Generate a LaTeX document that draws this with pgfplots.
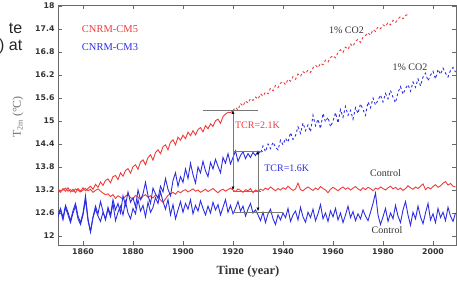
\documentclass[border=0pt]{standalone}
\usepackage{pgfplots}
\pgfplotsset{compat=1.18}
\usetikzlibrary{arrows.meta}
\usepackage{fontspec}
\setmainfont{Liberation Serif}
\newfontfamily\ticksfont{DejaVu Sans}
\newfontfamily\arialfont{Liberation Sans}
\definecolor{cmred}{RGB}{238,60,60}
\definecolor{cmblue}{RGB}{45,45,228}
\definecolor{axgray}{RGB}{105,105,105}
\definecolor{brgray}{RGB}{120,120,120}
\begin{document}
\begin{tikzpicture}
\begin{axis}[
  at={(58pt,40pt)}, anchor=south west,
  scale only axis, width=398pt, height=240pt,
  xmin=1850, xmax=2009.2, ymin=11.765, ymax=18.03,
  xtick={1860,1880,1900,1920,1940,1960,1980,2000},
  xticklabels={1860,1880,1900,1920,1940,1960,1980,2000},
  ytick={12,12.6,13.2,13.8,14.4,15,15.6,16.2,16.8,17.4,18},
  yticklabels={12,12.6,13.2,13.8,14.4,15,15.6,16.2,16.8,17.4,18},
  tick label style={font=\ticksfont\bfseries\fontsize{7.8}{8}\selectfont, text=black!80},
  axis line style={draw=axgray, line width=0.9pt},
  tick style={draw=axgray, line width=0.6pt},
  major tick length=4pt,
  clip=true,
]
% CNRM-CM5 control
\addplot[cmred, line width=0.9pt] coordinates {
(1850,13.22)(1851,13.18)(1852,13.20)(1853,13.25)(1854,13.17)(1855,13.21)(1856,13.16)(1857,13.23)(1858,13.19)(1859,13.15)
(1860,13.20)(1861,13.24)(1862,13.18)(1863,13.22)(1864,13.14)(1865,13.19)(1866,13.23)(1867,13.17)(1868,13.12)(1869,13.08)
(1870,13.10)(1871,13.03)(1872,13.08)(1873,12.98)(1874,13.05)(1875,13.01)(1876,12.96)(1877,13.04)(1878,13.09)(1879,13.00)
(1880,12.97)(1881,13.06)(1882,13.02)(1883,12.95)(1884,13.04)(1885,13.08)(1886,13.01)(1887,13.05)(1888,12.99)(1889,13.07)
(1890,13.03)(1891,12.94)(1892,12.88)(1893,12.97)(1894,13.06)(1895,13.10)(1896,13.14)(1897,13.09)(1898,13.17)(1899,13.13)
(1900,13.18)(1901,13.21)(1902,13.15)(1903,13.19)(1904,13.23)(1905,13.17)(1906,13.20)(1907,13.14)(1908,13.18)(1909,13.22)
(1910,13.16)(1911,13.20)(1912,13.24)(1913,13.18)(1914,13.13)(1915,13.19)(1916,13.22)(1917,13.17)(1918,13.21)(1919,13.25)
(1920,13.20)(1921,13.16)(1922,13.23)(1923,13.19)(1924,13.14)(1925,13.21)(1926,13.18)(1927,13.24)(1928,13.13)(1929,13.20)
(1930,13.17)(1931,13.22)(1932,13.19)(1933,13.25)(1934,13.21)(1935,13.28)(1936,13.23)(1937,13.18)(1938,13.24)(1939,13.20)
(1940,13.26)(1941,13.22)(1942,13.30)(1943,13.24)(1944,13.19)(1945,13.23)(1946,13.38)(1947,13.21)(1948,13.18)(1949,13.24)
(1950,13.28)(1951,13.23)(1952,13.19)(1953,13.25)(1954,13.21)(1955,13.29)(1956,13.24)(1957,13.20)(1958,13.13)(1959,13.22)
(1960,13.27)(1961,13.23)(1962,13.18)(1963,13.24)(1964,13.28)(1965,13.22)(1966,13.26)(1967,13.20)(1968,13.25)(1969,13.29)
(1970,13.23)(1971,13.19)(1972,13.26)(1973,13.21)(1974,13.27)(1975,13.24)(1976,13.18)(1977,13.25)(1978,13.22)(1979,13.28)
(1980,13.24)(1981,13.20)(1982,13.26)(1983,13.30)(1984,13.23)(1985,13.27)(1986,13.21)(1987,13.25)(1988,13.19)(1989,13.24)
(1990,13.31)(1991,13.26)(1992,13.22)(1993,13.28)(1994,13.24)(1995,13.30)(1996,13.36)(1997,13.21)(1998,13.27)(1999,13.23)
(2000,13.29)(2001,13.34)(2002,13.27)(2003,13.31)(2004,13.38)(2005,13.42)(2006,13.33)(2007,13.37)(2008,13.30)(2009,13.28)
};
% CNRM-CM5 1% CO2 (solid part)
\addplot[cmred, line width=0.9pt] coordinates {
(1850,13.20)(1851,13.14)(1852,13.24)(1853,13.17)(1854,13.26)(1855,13.15)(1856,13.22)(1857,13.13)(1858,13.24)(1859,13.17)
(1860,13.26)(1861,13.18)(1862,13.24)(1863,13.30)(1864,13.22)(1865,13.35)(1866,13.27)(1867,13.41)(1868,13.32)(1869,13.45)
(1870,13.49)(1871,13.39)(1872,13.55)(1873,13.58)(1874,13.47)(1875,13.65)(1876,13.56)(1877,13.71)(1878,13.76)(1879,13.64)
(1880,13.81)(1881,13.86)(1882,13.74)(1883,13.93)(1884,13.99)(1885,13.86)(1886,14.05)(1887,14.12)(1888,13.98)(1889,14.18)
(1890,14.25)(1891,14.15)(1892,14.33)(1893,14.38)(1894,14.25)(1895,14.45)(1896,14.51)(1897,14.38)(1898,14.58)(1899,14.50)
(1900,14.63)(1901,14.54)(1902,14.71)(1903,14.62)(1904,14.75)(1905,14.64)(1906,14.78)(1907,14.83)(1908,14.72)(1909,14.88)
(1910,14.80)(1911,14.93)(1912,14.86)(1913,15.01)(1914,15.05)(1915,14.94)(1916,15.12)(1917,15.18)(1918,15.23)(1919,15.22)
(1920,15.27)
};
% CNRM-CM5 1% CO2 (dashed part)
\addplot[cmred, line width=0.9pt, dash pattern=on 2.5pt off 2.5pt] coordinates {
(1920,15.27)(1921,15.36)(1922,15.29)(1923,15.46)(1924,15.39)(1925,15.53)(1926,15.47)(1927,15.59)(1928,15.54)(1929,15.63)
(1930,15.57)(1931,15.71)(1932,15.65)(1933,15.76)(1934,15.71)(1935,15.86)(1936,15.79)(1937,15.93)(1938,15.87)(1939,15.99)
(1940,16.03)(1941,15.95)(1942,16.09)(1943,16.04)(1944,16.16)(1945,16.09)(1946,16.23)(1947,16.17)(1948,16.29)(1949,16.24)
(1950,16.33)(1951,16.27)(1952,16.39)(1953,16.46)(1954,16.39)(1955,16.51)(1956,16.47)(1957,16.59)(1958,16.54)(1959,16.66)
(1960,16.71)(1961,16.65)(1962,16.79)(1963,16.86)(1964,16.79)(1965,16.93)(1966,16.87)(1967,17.01)(1968,16.95)(1969,17.09)
(1970,17.13)(1971,17.05)(1972,17.19)(1973,17.23)(1974,17.31)(1975,17.24)(1976,17.39)(1977,17.34)(1978,17.46)(1979,17.41)
(1980,17.51)(1981,17.47)(1982,17.57)(1983,17.51)(1984,17.63)(1985,17.57)(1986,17.66)(1987,17.73)(1988,17.67)(1989,17.76)
(1990,17.78)
};
% CNRM-CM3 control
\addplot[cmblue, line width=0.9pt] coordinates {
(1850,12.50)(1851,12.68)(1852,12.42)(1853,12.75)(1854,12.55)(1855,12.35)(1856,12.60)(1857,12.78)(1858,12.45)(1859,12.30)
(1860,12.55)(1861,12.95)(1862,12.40)(1863,12.10)(1864,12.48)(1865,12.70)(1866,12.52)(1867,12.38)(1868,12.62)(1869,12.45)
(1870,12.70)(1871,12.50)(1872,12.85)(1873,12.40)(1874,12.62)(1875,12.78)(1876,12.55)(1877,12.90)(1878,12.60)(1879,12.45)
(1880,12.72)(1881,12.58)(1882,12.95)(1883,12.65)(1884,12.80)(1885,12.50)(1886,12.88)(1887,12.62)(1888,12.75)(1889,13.00)
(1890,12.85)(1891,13.15)(1892,12.90)(1893,12.70)(1894,12.95)(1895,12.55)(1896,12.82)(1897,12.45)(1898,12.68)(1899,12.90)
(1900,12.62)(1901,12.85)(1902,12.70)(1903,12.95)(1904,12.58)(1905,12.80)(1906,12.65)(1907,12.92)(1908,12.72)(1909,12.55)
(1910,12.78)(1911,12.60)(1912,12.88)(1913,12.68)(1914,12.82)(1915,12.55)(1916,12.75)(1917,12.95)(1918,12.62)(1919,12.80)
(1920,12.58)(1921,12.72)(1922,12.90)(1923,12.65)(1924,12.78)(1925,12.52)(1926,12.70)(1927,12.85)(1928,12.60)(1929,12.68)
(1930,12.55)(1931,12.40)(1932,12.62)(1933,12.35)(1934,12.58)(1935,12.70)(1936,12.45)(1937,12.30)(1938,12.55)(1939,12.42)
(1940,12.60)(1941,12.48)(1942,12.72)(1943,12.38)(1944,12.55)(1945,12.65)(1946,12.42)(1947,12.75)(1948,12.50)(1949,12.36)
(1950,12.62)(1951,12.48)(1952,12.70)(1953,12.40)(1954,12.58)(1955,12.82)(1956,12.45)(1957,12.60)(1958,12.38)(1959,12.66)
(1960,12.50)(1961,12.72)(1962,12.42)(1963,12.60)(1964,12.35)(1965,12.55)(1966,12.78)(1967,12.48)(1968,12.64)(1969,12.40)
(1970,12.58)(1971,12.45)(1972,12.68)(1973,12.52)(1974,12.40)(1975,12.62)(1976,12.85)(1977,13.12)(1978,12.55)(1979,12.30)
(1980,12.50)(1981,12.72)(1982,12.38)(1983,12.60)(1984,12.45)(1985,12.80)(1986,12.52)(1987,12.35)(1988,12.68)(1989,12.90)
(1990,12.55)(1991,12.28)(1992,12.62)(1993,12.45)(1994,12.78)(1995,12.50)(1996,12.32)(1997,12.60)(1998,12.85)(1999,12.42)
(2000,12.58)(2001,12.35)(2002,12.72)(2003,12.48)(2004,12.62)(2005,12.40)(2006,12.75)(2007,12.52)(2008,12.38)(2009,12.60)
};
% CNRM-CM3 1% CO2 (solid part)
\addplot[cmblue, line width=0.9pt] coordinates {
(1850,12.55)(1851,12.72)(1852,12.48)(1853,12.80)(1854,12.62)(1855,12.40)(1856,12.66)(1857,12.85)(1858,12.52)(1859,12.35)
(1860,12.60)(1861,13.05)(1862,12.45)(1863,12.12)(1864,12.50)(1865,12.78)(1866,12.58)(1867,12.90)(1868,12.64)(1869,12.42)
(1870,12.75)(1871,12.55)(1872,12.95)(1873,12.68)(1874,12.85)(1875,12.60)(1876,13.05)(1877,12.80)(1878,13.15)(1879,12.88)
(1880,13.00)(1881,12.76)(1882,13.20)(1883,12.95)(1884,13.10)(1885,13.40)(1886,13.05)(1887,12.85)(1888,13.25)(1889,13.10)
(1890,12.98)(1891,13.30)(1892,13.15)(1893,13.50)(1894,13.22)(1895,13.05)(1896,13.45)(1897,13.65)(1898,13.30)(1899,13.55)
(1900,13.40)(1901,13.75)(1902,13.50)(1903,13.90)(1904,13.60)(1905,13.38)(1906,13.80)(1907,13.65)(1908,13.95)(1909,13.70)
(1910,13.55)(1911,13.92)(1912,13.75)(1913,14.00)(1914,13.82)(1915,13.65)(1916,14.05)(1917,13.90)(1918,14.15)(1919,13.88)
(1920,14.05)(1921,14.22)(1922,13.95)(1923,14.10)(1924,14.20)(1925,14.02)(1926,14.15)(1927,14.05)(1928,14.18)(1929,14.10)
(1930,14.22)
};
% CNRM-CM3 1% CO2 (dashed part)
\addplot[cmblue, line width=0.9pt, dash pattern=on 2.5pt off 2.5pt] coordinates {
(1930,14.22)(1931,14.15)(1932,14.35)(1933,14.20)(1934,14.40)(1935,14.28)(1936,14.45)(1937,14.32)(1938,14.25)(1939,14.50)
(1940,14.38)(1941,14.55)(1942,14.45)(1943,14.70)(1944,14.52)(1945,14.62)(1946,14.85)(1947,14.68)(1948,14.95)(1949,14.75)
(1950,14.90)(1951,14.72)(1952,15.15)(1953,14.88)(1954,15.05)(1955,14.80)(1956,15.20)(1957,14.98)(1958,15.10)(1959,14.85)
(1960,15.00)(1961,15.22)(1962,14.95)(1963,15.30)(1964,15.10)(1965,15.38)(1966,15.15)(1967,15.28)(1968,15.05)(1969,15.35)
(1970,15.20)(1971,15.45)(1972,15.30)(1973,15.15)(1974,15.50)(1975,15.35)(1976,15.60)(1977,15.42)(1978,15.55)(1979,15.68)
(1980,15.50)(1981,15.72)(1982,15.58)(1983,15.80)(1984,15.62)(1985,15.48)(1986,15.75)(1987,15.90)(1988,15.70)(1989,15.85)
(1990,15.95)(1991,15.78)(1992,16.02)(1993,15.88)(1994,16.10)(1995,15.92)(1996,16.15)(1997,16.25)(1998,16.05)(1999,16.20)
(2000,16.30)(2001,16.10)(2002,16.35)(2003,16.22)(2004,16.38)(2005,16.25)(2006,16.15)(2007,16.32)(2008,16.40)(2009,16.28)
};
% TCR brackets
\draw[brgray, line width=0.5pt] (axis cs:1908,15.28) -- (axis cs:1930,15.28);
\draw[brgray, line width=0.5pt] (axis cs:1920,13.18) -- (axis cs:1931,13.18);
\draw[brgray, line width=0.5pt, {Latex[length=3.5pt,width=3pt,black]}-{Latex[length=3.5pt,width=3pt,black]}] (axis cs:1920,15.28) -- (axis cs:1920,13.20);
\draw[brgray, line width=0.5pt] (axis cs:1920,14.22) -- (axis cs:1932,14.22);
\draw[brgray, line width=0.5pt] (axis cs:1920,12.63) -- (axis cs:1940,12.63);
\draw[brgray, line width=0.5pt, {Latex[length=3.5pt,width=3pt,black]}-{Latex[length=3.5pt,width=3pt,black]}] (axis cs:1930,14.22) -- (axis cs:1930,12.65);
% annotations
\node[cmred, font=\fontsize{10.5}{11}\selectfont] at (axis cs:1870.8,17.40) {CNRM-CM5};
\node[cmblue, font=\fontsize{10.5}{11}\selectfont] at (axis cs:1870.8,16.93) {CNRM-CM3};
\node[black!80, font=\fontsize{10}{11}\selectfont] at (axis cs:1965.4,17.37) {1\% CO2};
\node[black!80, font=\fontsize{10}{11}\selectfont] at (axis cs:1990.8,16.41) {1\% CO2};
\node[cmred, font=\fontsize{10}{11}\selectfont] at (axis cs:1929.8,14.90) {TCR=2.1K};
\node[cmblue, font=\fontsize{10}{11}\selectfont] at (axis cs:1941.5,13.77) {TCR=1.6K};
\node[black!80, font=\fontsize{10}{11}\selectfont] at (axis cs:1981,13.64) {Control};
\node[black!80, font=\fontsize{10}{11}\selectfont] at (axis cs:1981.6,12.15) {Control};
\end{axis}
% axis labels
\node[font=\bfseries\fontsize{12.5}{13}\selectfont, text=black!80] at (248pt,13pt) {Time (year)};
\node[rotate=90, font=\fontsize{12}{13}\selectfont, text=black!55] at (18pt,168pt) {T$_{\mathrm{2m}}$ (\textdegree C)};
% cropped caption fragments at the left edge
\node[anchor=base east, inner sep=0pt, font=\arialfont\fontsize{16}{18}\selectfont, text=black!85] at (22.5pt,252pt) {te};
\node[anchor=base east, inner sep=0pt, font=\arialfont\fontsize{16}{18}\selectfont, text=black!85] at (22.5pt,235pt) {) at};
\pgfresetboundingbox
\path[use as bounding box] (0,0) rectangle (457pt,285pt);
\end{tikzpicture}
\end{document}
